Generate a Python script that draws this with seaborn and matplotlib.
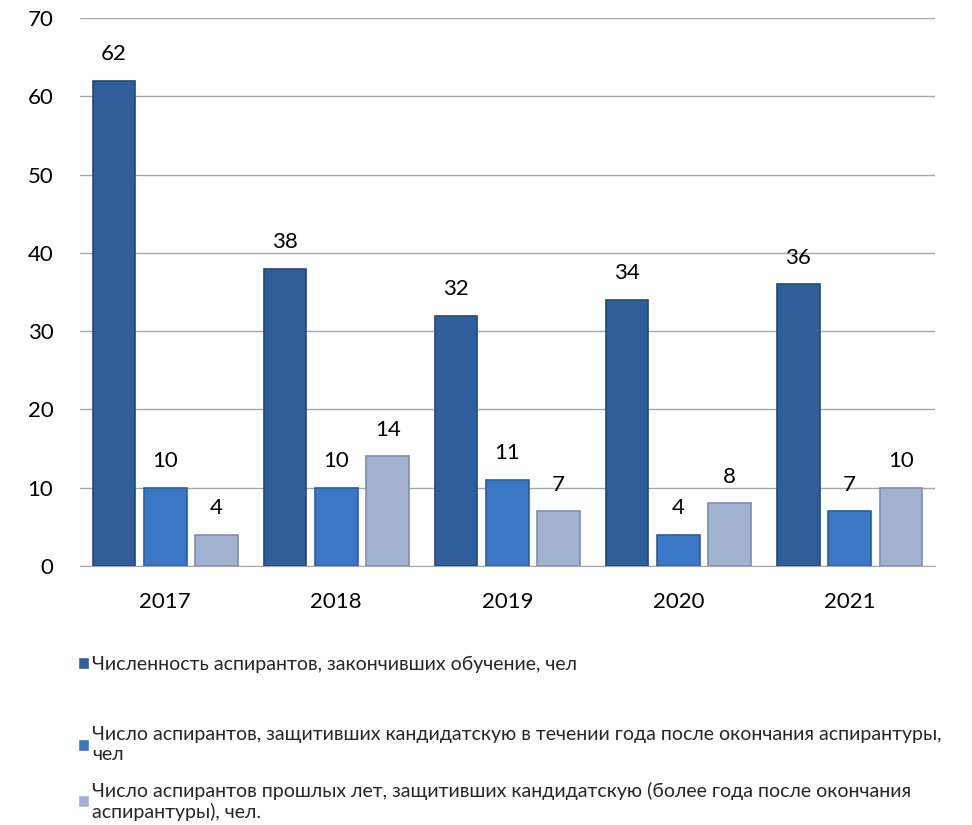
import pandas as pd
import matplotlib.pyplot as plt
import seaborn as sns

# data
years = ['2017', '2018', '2019', '2020', '2021']
finished = [62, 38, 32, 34, 36]
defended_1y = [10, 10, 11, 4, 7]
defended_past = [4, 14, 7, 8, 10]

labels = [
    'Численность аспирантов, закончивших обучение, чел',
    'Число аспирантов, защитивших кандидатскую в течении года после окончания аспирантуры,\nчел',
    'Число аспирантов прошлых лет, защитивших кандидатскую (более года после окончания\nаспирантуры), чел.',
]
colors = ['#2F5E9B', '#3A78C6', '#A3B1D0']
edges = ['#24497A', '#2C5E9E', '#7F8DAD']

df = pd.DataFrame({
    'year': years * 3,
    'value': finished + defended_1y + defended_past,
    'series': [labels[0]] * 5 + [labels[1]] * 5 + [labels[2]] * 5,
})

sns.set_style('white')
plt.rcParams['font.family'] = ['Lato', 'DejaVu Sans']

fig = plt.figure(figsize=(9.72, 8.25), dpi=100)
ax = fig.add_axes([0.082, 0.314, 0.88, 0.664])

sns.barplot(data=df, x='year', y='value', hue='series', palette=colors,
            saturation=1, width=0.9, gap=0.17, ax=ax, legend=True, zorder=3)

for cont, ec in zip(ax.containers, edges):
    for p in cont:
        p.set_edgecolor(ec)
        p.set_linewidth(1.2)
    ax.bar_label(cont, padding=12, fontsize=16, color='black')

ax.set_ylim(0, 70)
ax.set_yticks(range(0, 71, 10))
ax.yaxis.grid(True, color='#A6A6A6', linewidth=1, zorder=0)
ax.set_xlabel('')
ax.set_ylabel('')
for s in ['top', 'right', 'left']:
    ax.spines[s].set_visible(False)
ax.spines['bottom'].set_color('#A6A6A6')
ax.tick_params(axis='both', length=0, labelsize=16, colors='black')
ax.tick_params(axis='y', pad=19)
ax.tick_params(axis='x', pad=19)

handles, lbls = ax.get_legend_handles_labels()
ax.get_legend().remove()
# first entry sits alone, the two wrapped entries below it
leg_kw = dict(loc='upper left', frameon=False, fontsize=14, handlelength=0.6,
              handleheight=0.6, handletextpad=0.15)
fig.legend(handles[:1], lbls[:1], bbox_to_anchor=(0.062, 0.226), **leg_kw)
fig.legend(handles[1:], lbls[1:], bbox_to_anchor=(0.062, 0.141),
           labelspacing=0.95, **leg_kw)

plt.savefig('out.png', dpi=100)
